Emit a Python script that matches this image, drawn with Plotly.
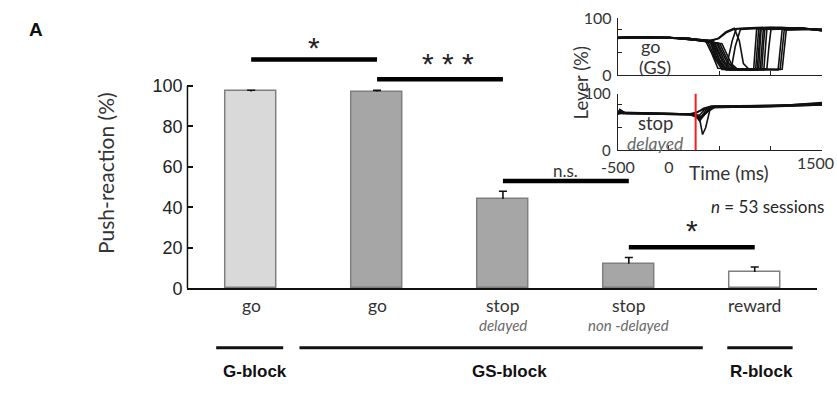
import plotly.graph_objects as go

W, H = 837, 394

# ---------------- data ----------------
categories = ["go", "go", "stop", "stop", "reward"]
sublabels = ["", "", "delayed", "non -delayed", ""]
push_reaction = [97.3, 97.2, 44.2, 12.2, 8.1]
push_err = [0.6, 0.6, 3.8, 3.1, 2.5]
bar_colors = ["#d9d9d9", "#a6a6a6", "#a6a6a6", "#a6a6a6", "#ffffff"]

sig_from = [0, 1, 2, 3]
sig_to = [1, 2, 3, 4]
sig_level = [113.1, 103.3, 53.1, 20.3]
sig_text = ["*", "* * *", "n.s.", "*"]

blocks = ["G-block", "GS-block", "R-block"]
yticks_main = [0, 20, 40, 60, 80, 100]

# lever traces, go trials in GS-block (time ms, lever %)
go_lever_t = [
    [-500, -400, 0, 200, 300, 400, 490, 560, 650, 800, 1000, 1300, 1500],
    [-500, -400, 0, 200, 300, 360, 420, 480, 560, 620, 660, 900, 1200, 1500],
    [-500, -350, 0, 200, 300, 380, 460, 520, 610, 650, 700, 1000, 1300, 1500],
    [-500, -300, 0, 200, 300, 400, 460, 530, 830, 845, 860, 1100, 1500],
    [-500, -300, 0, 200, 300, 410, 470, 540, 850, 865, 880, 1200, 1500],
    [-500, -300, 0, 200, 320, 420, 490, 560, 865, 880, 895, 1200, 1500],
    [-500, -300, 0, 200, 320, 430, 500, 570, 880, 892, 905, 1100, 1500],
    [-500, -300, 0, 200, 330, 440, 520, 590, 895, 910, 925, 1200, 1500],
    [-500, -300, 0, 200, 330, 450, 530, 600, 910, 925, 940, 1300, 1500],
    [-500, -300, 0, 200, 340, 470, 550, 620, 930, 945, 960, 1200, 1500],
    [-500, -300, 0, 200, 340, 480, 570, 640, 960, 980, 1000, 1300, 1500],
    [-500, -300, 0, 200, 350, 500, 590, 660, 1070, 1090, 1110, 1300, 1500],
    [-500, -300, 0, 200, 350, 520, 610, 680, 1110, 1130, 1150, 1350, 1500],
    [-500, -300, 0, 200, 300, 420, 480, 560, 640, 690, 730, 780, 1090, 1110, 1130, 1500],
]
go_lever_v = [
    [65, 67, 66, 64, 62, 61, 64, 74, 81, 83, 84, 81, 79],
    [66, 66, 66, 64, 62, 60, 38, 12, 11, 60, 81, 83, 82, 79],
    [64, 67, 65, 63, 61, 60, 26, 10, 10, 50, 80, 83, 82, 78],
    [66, 66, 66, 64, 62, 60, 30, 10, 9, 50, 81, 82, 80],
    [65, 67, 66, 63, 61, 59, 30, 11, 10, 55, 82, 83, 79],
    [66, 66, 65, 64, 61, 58, 28, 9, 9, 55, 80, 82, 80],
    [65, 66, 66, 63, 61, 58, 25, 10, 11, 50, 83, 84, 79],
    [66, 67, 65, 64, 60, 57, 25, 11, 10, 55, 81, 82, 80],
    [65, 66, 66, 63, 60, 57, 24, 9, 10, 50, 82, 83, 78],
    [66, 66, 65, 64, 60, 56, 22, 10, 9, 55, 81, 83, 80],
    [65, 67, 66, 63, 60, 56, 22, 11, 11, 50, 80, 82, 79],
    [66, 66, 66, 64, 60, 55, 20, 10, 9, 45, 80, 82, 79],
    [65, 66, 65, 63, 59, 55, 20, 9, 10, 45, 79, 81, 78],
    [66, 66, 66, 64, 62, 60, 64, 76, 82, 60, 20, 11, 10, 50, 79, 80],
]

# lever traces, stop-delayed trials
stop_lever_t = [
    [-500, -480, -450, 0, 200, 250, 300, 330, 360, 400, 450, 800, 1200, 1500],
    [-500, -470, -440, 0, 200, 250, 300, 350, 430, 1000, 1300, 1500],
    [-500, -460, -420, 0, 200, 250, 300, 360, 420, 1000, 1300, 1500],
    [-500, -450, 0, 200, 260, 310, 380, 440, 900, 1300, 1500],
    [-500, -480, -430, 0, 200, 250, 290, 340, 420, 1100, 1400, 1500],
    [-500, -450, 0, 200, 270, 320, 370, 430, 1300, 1500],
    [-500, -450, 0, 200, 250, 300, 350, 410, 1200, 1500],
    [-500, -450, 0, 200, 260, 300, 345, 420, 1000, 1500],
]
stop_lever_v = [
    [66, 71, 65, 64, 63, 62, 57, 28, 40, 70, 76, 77, 79, 82],
    [65, 70, 66, 65, 64, 66, 70, 73, 77, 78, 81, 83],
    [64, 69, 65, 64, 63, 60, 55, 65, 76, 77, 79, 80],
    [66, 67, 65, 64, 62, 58, 70, 77, 77, 80, 81],
    [65, 72, 66, 65, 64, 64, 68, 74, 78, 79, 83, 84],
    [64, 66, 64, 63, 60, 60, 72, 76, 80, 82],
    [65, 65, 65, 64, 63, 62, 72, 77, 80, 81],
    [66, 66, 65, 64, 62, 52, 62, 75, 77, 80],
]
stop_signal_time = 262

inset_xticks = [-500, 0, 500, 1000, 1500]
inset_xticktext = ["-500", "0", "", "", ""]
inset_last_tick = "1500"

# ---------------- figure ----------------
def px_x(p):
    return p / W


def px_y(p):
    return 1 - p / H


fig = go.Figure()

fig.add_trace(go.Bar(
    x=list(range(len(categories))), y=push_reaction, width=0.405,
    marker=dict(color=bar_colors, line=dict(color="#7f7f7f", width=1.5)),
    xaxis="x", yaxis="y", showlegend=False, hoverinfo="skip",
))

# one-sided (upper) error bars built from the data
cap_half = 0.032
ex, ey = [], []
for i, (v, e) in enumerate(zip(push_reaction, push_err)):
    ex += [i, i, None, i - cap_half, i + cap_half, None]
    ey += [v, v + e, None, v + e, v + e, None]
fig.add_trace(go.Scatter(x=ex, y=ey, mode="lines", line=dict(color="#111111", width=1.6),
                         xaxis="x", yaxis="y", showlegend=False, hoverinfo="skip"))

for t, v in zip(go_lever_t, go_lever_v):
    fig.add_trace(go.Scatter(x=t, y=v, mode="lines", line=dict(color="#111111", width=1.6),
                             xaxis="x2", yaxis="y2", showlegend=False, hoverinfo="skip"))
for t, v in zip(stop_lever_t, stop_lever_v):
    fig.add_trace(go.Scatter(x=t, y=v, mode="lines", line=dict(color="#111111", width=1.6),
                             xaxis="x3", yaxis="y3", showlegend=False, hoverinfo="skip"))

main_x0, main_x1 = 174, 817
y0_px = 293.3
px_per_unit = (293.3 - 80.0) / 100.0

inset_x0, inset_x1 = 613.3, 821.7
lab = "Lato"
ax_common = dict(showgrid=False, zeroline=False)

fig.update_layout(
    width=W, height=H, margin=dict(l=0, r=0, t=0, b=0),
    paper_bgcolor="white", plot_bgcolor="rgba(0,0,0,0)",
    showlegend=False, bargap=0,
    xaxis=dict(domain=[px_x(main_x0), px_x(main_x1)], range=[-0.506, 4.498],
               showline=True, linecolor="#111111", linewidth=1.5, ticks="",
               showticklabels=False, anchor="y", **ax_common),
    yaxis=dict(domain=[px_y(y0_px), 1], range=[0, y0_px / px_per_unit],
               tickvals=yticks_main, ticktext=[str(v) for v in yticks_main],
               ticks="inside", ticklen=6, tickwidth=1.5, tickcolor="#111111",
               showline=False, tickfont=dict(family="Liberation Sans", size=18, color="#222222"),
               ticklabelstandoff=4, anchor="x", **ax_common),
    xaxis2=dict(domain=[px_x(inset_x0), px_x(inset_x1)], range=[-500, 1500], anchor="y2",
                showline=True, linecolor="#222222", linewidth=1.3, ticks="inside",
                tickvals=[500, 1000], ticklen=4, tickcolor="#222222",
                showticklabels=False, **ax_common),
    yaxis2=dict(domain=[px_y(68.5), px_y(8.5)], range=[0, 100], anchor="x2",
                showline=True, linecolor="#222222", linewidth=1.3, ticks="inside",
                tickvals=[0, 40, 80, 100], ticktext=["0", "", "", "100"], ticklen=4,
                tickcolor="#222222", tickfont=dict(family=lab, size=16, color="#333333"),
                ticklabelstandoff=2, **ax_common),
    xaxis3=dict(domain=[px_x(inset_x0), px_x(inset_x1)], range=[-500, 1500], anchor="y3",
                showline=True, linecolor="#222222", linewidth=1.3, ticks="inside",
                tickvals=inset_xticks, ticktext=inset_xticktext, ticklen=4,
                tickcolor="#222222", tickfont=dict(family=lab, size=16, color="#333333"),
                ticklabelstandoff=2, **ax_common),
    yaxis3=dict(domain=[px_y(148), px_y(88)], range=[0, 100], anchor="x3",
                showline=True, linecolor="#222222", linewidth=1.3, ticks="inside",
                tickvals=[0, 40, 80, 100], ticktext=["0", "", "", "100"], ticklen=4,
                tickcolor="#222222", tickfont=dict(family=lab, size=15, color="#333333"),
                ticklabelstandoff=3, **ax_common),
)

shapes = []
# main y axis line (0..100 only)
shapes.append(dict(type="line", xref="paper", yref="y", x0=px_x(main_x0), x1=px_x(main_x0),
                   y0=0, y1=100, line=dict(color="#111111", width=1.5)))
# significance bars
for a, b, lvl in zip(sig_from, sig_to, sig_level):
    shapes.append(dict(type="line", xref="x", yref="y", x0=a, x1=b, y0=lvl, y1=lvl,
                       line=dict(color="#000000", width=4.5)))
# stop signal line in inset
shapes.append(dict(type="line", xref="x3", yref="y3", x0=stop_signal_time, x1=stop_signal_time,
                   y0=0, y1=100, line=dict(color="#ff1a1a", width=2)))
# block lines
block_spans = [(203.3, 271.7), (288.3, 700.0), (725.0, 791.7)]
for x0, x1 in block_spans:
    shapes.append(dict(type="line", xref="paper", yref="paper", x0=px_x(x0), x1=px_x(x1),
                       y0=px_y(355.7), y1=px_y(355.7), line=dict(color="#111111", width=3)))
fig.update_layout(shapes=shapes)

ann = []


def add_text(text, x, y, size, family=lab, color="#262626", xref="paper", yref="paper",
             angle=0, xanchor="center", yshift=0, xshift=0):
    ann.append(dict(text=text, x=x, y=y, xref=xref, yref=yref, showarrow=False,
                    font=dict(family=family, size=size, color=color), textangle=angle,
                    xanchor=xanchor, yanchor="middle", yshift=yshift, xshift=xshift))


# panel letter
add_text("<b>A</b>", px_x(19), px_y(21), 19, family="Liberation Sans", color="#111111")
# y title
add_text("Push-reaction (%)", px_x(91), px_y(171.5), 21, angle=-90, color="#333333")
# category labels
for i, (c, s) in enumerate(zip(categories, sublabels)):
    add_text(c, i, px_y(311), 17.5, xref="x", color="#333333")
    if s:
        add_text("<i>" + s + "</i>", i, px_y(331.7), 15, xref="x", color="#6a6a6a")
# significance labels
sig_shift = [(0, 12), (8, 16), (0, 10), (0, 17)]
for a, b, lvl, txt, (dx, dy) in zip(sig_from, sig_to, sig_level, sig_text, sig_shift):
    if txt == "n.s.":
        add_text(txt, (a + b) / 2, lvl, 17, xref="x", yref="y", yshift=dy, xshift=dx,
                 color="#333333")
    else:
        add_text(txt, (a + b) / 2, lvl, 30, family="Liberation Sans", xref="x", yref="y",
                 yshift=dy, xshift=dx, color="#222222")
# block labels
for name, xc in zip(blocks, [243, 503, 760]):
    add_text("<b>" + name + "</b>", px_x(xc), px_y(381), 17, family="Liberation Sans",
             color="#111111")
# n sessions
add_text("<i>n</i> = 53 sessions", px_x(766), px_y(206.7), 17, color="#262626")
# inset labels
add_text("Lever (%)", px_x(576), px_y(77), 18.5, angle=-90, color="#333333")
add_text("Time (ms)", px_x(727), px_y(171), 19, color="#333333")
add_text("go", px_x(647), px_y(37.5), 18, color="#333333")
add_text("(GS)", px_x(651), px_y(60.5), 18, color="#333333")
add_text("stop", px_x(652), px_y(119), 18.5, color="#333333")
add_text("<i>delayed</i>", px_x(652), px_y(141), 17.5, color="#6a6a6a")
# last inset x tick label, kept inside the page
add_text(inset_last_tick, px_x(836), px_y(161), 16, color="#333333", xanchor="right")

fig.update_layout(annotations=ann)

fig.write_html("out.html",
               post_script="document.body.style.margin='0px';document.body.style.overflow='hidden';")
